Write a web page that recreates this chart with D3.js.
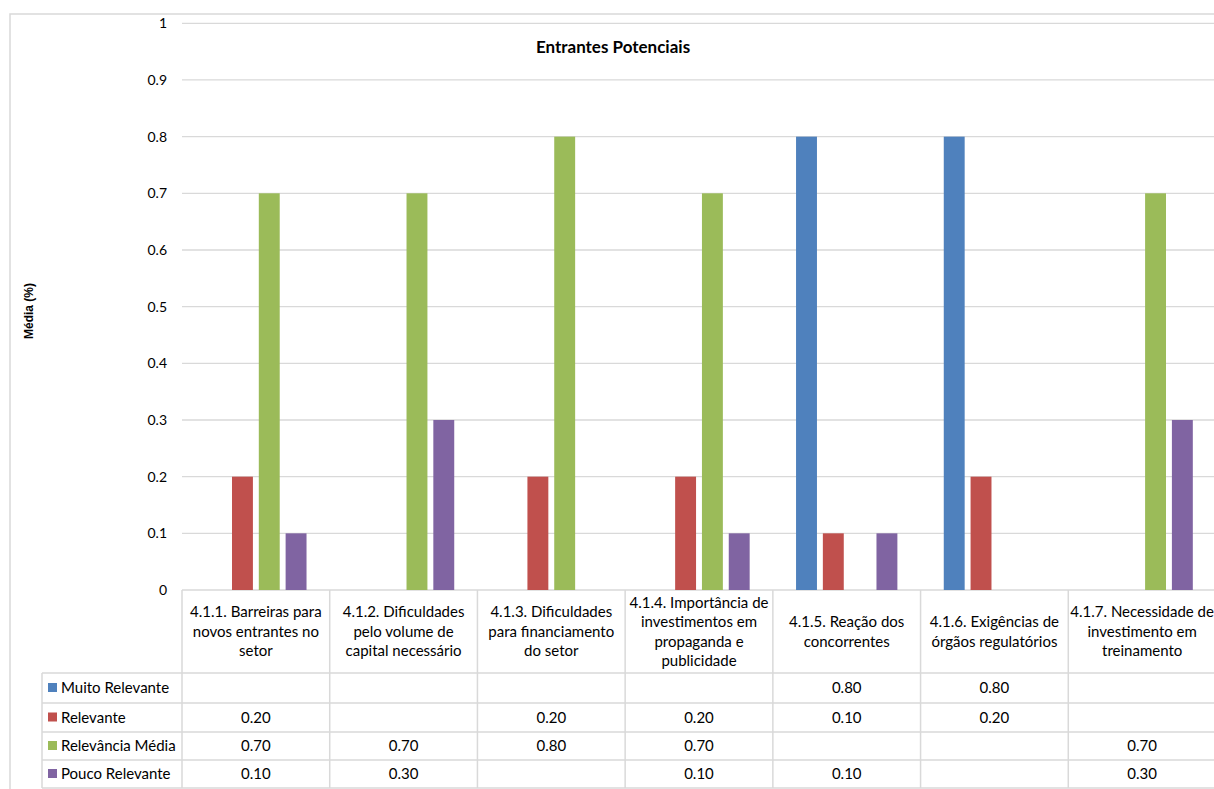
<!DOCTYPE html>
<html>
<head>
<meta charset="utf-8">
<script src="https://cdn.jsdelivr.net/npm/d3@7"></script>
<style>
  html, body { margin: 0; padding: 0; background: #fff; overflow: hidden; }
  svg { display: block; font-family: Lato, "Open Sans", sans-serif; }
</style>
</head>
<body>
<svg id="chart" width="1214" height="789"></svg>
<script>
// Category labels, already split into the lines shown in the table header
const categories = [
  ["4.1.1. Barreiras para", "novos entrantes no", "setor"],
  ["4.1.2. Dificuldades", "pelo volume de", "capital necessário"],
  ["4.1.3. Dificuldades", "para financiamento", "do setor"],
  ["4.1.4. Importância de", "investimentos em", "propaganda e", "publicidade"],
  ["4.1.5. Reação dos", "concorrentes"],
  ["4.1.6. Exigências de", "órgãos regulatórios"],
  ["4.1.7. Necessidade de", "investimento em", "treinamento"]
];

const seriesNames = ["Muito Relevante", "Relevante", "Relevância Média", "Pouco Relevante"];
const seriesColors = ["#4F81BD", "#C0504D", "#9BBB59", "#8064A2"];

// Values per series (null = no answer in that category)
const muitoRelevante  = [null, null, null, null, 0.80, 0.80, null];
const relevante       = [0.20, null, 0.20, 0.20, 0.10, 0.20, null];
const relevanciaMedia = [0.70, 0.70, 0.80, 0.70, null, null, 0.70];
const poucoRelevante  = [0.10, 0.30, null, 0.10, 0.10, null, 0.30];
const seriesValues = [muitoRelevante, relevante, relevanciaMedia, poucoRelevante];

const yTicks = [0, 0.1, 0.2, 0.3, 0.4, 0.5, 0.6, 0.7, 0.8, 0.9, 1];

const svg = d3.select("#chart");
const W = 1214, H = 789;

const plot = { left: 182, right: 1216, top: 23.3, bottom: 590 };
const tableLeft = 42;
const headerBottom = 673;
const rowLines = [673, 703, 732, 760, 788];
const grid = "#D9D9D9";
const tableFont = 15;

// outer chart frame
svg.append("rect")
  .attr("x", 10).attr("y", 14)
  .attr("width", 1240).attr("height", 790)
  .attr("fill", "none").attr("stroke", grid).attr("stroke-width", 1.5);

const x = d3.scaleBand()
  .domain(d3.range(categories.length))
  .range([plot.left, plot.right])
  .paddingInner(0).paddingOuter(0);

const x1 = d3.scaleBand()
  .domain(d3.range(seriesNames.length))
  .range([0, x.bandwidth()])
  .paddingInner(0.22).paddingOuter(0.865);

const y = d3.scaleLinear().domain([0, 1]).range([plot.bottom, plot.top]);

// gridlines + tick labels
const yAxis = d3.axisLeft(y).tickValues(yTicks).tickSize(0).tickPadding(15)
  .tickFormat(d => d3.format("~g")(d));
const gy = svg.append("g").attr("transform", `translate(${plot.left},0)`).call(yAxis);
gy.select(".domain").remove();
gy.selectAll("text").attr("font-size", 14).attr("fill", "#000")
  .attr("font-family", "Lato, 'Open Sans', sans-serif");
svg.append("g").selectAll("line").data(yTicks).join("line")
  .attr("x1", plot.left).attr("x2", W + 5)
  .attr("y1", d => y(d)).attr("y2", d => y(d))
  .attr("stroke", grid).attr("stroke-width", 1.3);

// bars
const groups = svg.append("g").selectAll("g").data(seriesValues).join("g")
  .attr("fill", (d, i) => seriesColors[i]);
groups.each(function(vals, si) {
  d3.select(this).selectAll("rect")
    .data(vals.map((v, ci) => ({ v, ci })).filter(d => d.v != null))
    .join("rect")
    .attr("x", d => x(d.ci) + x1(si))
    .attr("width", x1.bandwidth())
    .attr("y", d => y(d.v))
    .attr("height", d => y(0) - y(d.v));
});

// title
svg.append("text")
  .attr("x", 613).attr("y", 53)
  .attr("text-anchor", "middle")
  .attr("font-size", 17).attr("font-weight", "bold")
  .text("Entrantes Potenciais");

// y axis title
svg.append("text")
  .attr("transform", "translate(33,311) rotate(-90)")
  .attr("text-anchor", "middle")
  .attr("font-family", "'Liberation Sans', Arial, sans-serif")
  .attr("font-size", 12).attr("font-weight", "bold")
  .text("Média (%)");

// data table
const table = svg.append("g");
// vertical separators
const vx = d3.range(categories.length + 1).map(i => plot.left + i * x.bandwidth());
table.selectAll("line.v").data(vx).join("line")
  .attr("x1", d => d).attr("x2", d => d)
  .attr("y1", plot.bottom).attr("y2", rowLines[rowLines.length - 1])
  .attr("stroke", grid).attr("stroke-width", 1.5);
table.append("line")
  .attr("x1", tableLeft).attr("x2", tableLeft)
  .attr("y1", headerBottom).attr("y2", rowLines[rowLines.length - 1])
  .attr("stroke", grid).attr("stroke-width", 1.5);
// horizontal rules
table.selectAll("line.h").data(rowLines).join("line")
  .attr("x1", tableLeft).attr("x2", W + 5)
  .attr("y1", d => d).attr("y2", d => d)
  .attr("stroke", grid).attr("stroke-width", 1.5);

// header labels
const lineH = 19.5;
const headerMid = (plot.bottom + headerBottom) / 2;
categories.forEach((lines, ci) => {
  const cx = x(ci) + x.bandwidth() / 2;
  const y0 = headerMid - (lines.length - 1) * lineH / 2;
  const t = table.append("text")
    .attr("text-anchor", "middle")
    .attr("font-size", tableFont);
  lines.forEach((ln, li) => {
    t.append("tspan").attr("x", cx).attr("y", y0 + li * lineH).attr("dy", "0.35em").text(ln);
  });
});

// legend rows with values
seriesNames.forEach((name, si) => {
  const top = rowLines[si], bot = rowLines[si + 1];
  const mid = (top + bot) / 2;
  table.append("rect")
    .attr("x", 48).attr("y", mid - 5).attr("width", 9).attr("height", 9)
    .attr("fill", seriesColors[si]);
  table.append("text")
    .attr("x", 61).attr("y", mid).attr("dy", "0.35em")
    .attr("font-size", tableFont).text(name);
  seriesValues[si].forEach((v, ci) => {
    if (v == null) return;
    table.append("text")
      .attr("x", x(ci) + x.bandwidth() / 2).attr("y", mid).attr("dy", "0.35em")
      .attr("text-anchor", "middle").attr("font-size", tableFont)
      .text(d3.format(".2f")(v));
  });
});
</script>
</body>
</html>
